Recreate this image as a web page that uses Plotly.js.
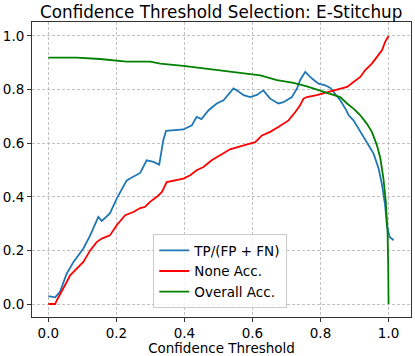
<!DOCTYPE html>
<html>
<head>
<meta charset="utf-8">
<script src="https://cdn.plot.ly/plotly-3.0.1.min.js"></script>
<style>
  html, body { margin: 0; padding: 0; background: #fff; }
  #chart { width: 415px; height: 356px; }
</style>
</head>
<body>
<div id="chart"></div>
<script>
// values
var tp_x = [0, 0.02, 0.034, 0.054, 0.074, 0.103, 0.123, 0.147, 0.157, 0.181, 0.201, 0.23, 0.24, 0.27, 0.289, 0.309, 0.326, 0.338, 0.346,
  0.397, 0.422, 0.436, 0.45, 0.471, 0.495, 0.515, 0.544, 0.554, 0.574, 0.593, 0.613, 0.632, 0.652, 0.676, 0.691, 0.716, 0.731, 0.74,
  0.755, 0.775, 0.794, 0.814, 0.829, 0.843, 0.858, 0.873, 0.883, 0.897, 0.917, 0.936, 0.956, 0.971, 0.981, 0.99, 0.995, 1.003, 1.015];
var tp_y = [0.029, 0.025, 0.045, 0.113, 0.157, 0.207, 0.256, 0.325, 0.31, 0.338, 0.393, 0.46, 0.468, 0.489, 0.536, 0.53, 0.52, 0.611, 0.646,
  0.651, 0.667, 0.698, 0.69, 0.723, 0.748, 0.76, 0.804, 0.797, 0.779, 0.772, 0.78, 0.797, 0.766, 0.748, 0.753, 0.772, 0.804, 0.835,
  0.866, 0.841, 0.822, 0.816, 0.806, 0.785, 0.76, 0.729, 0.704, 0.685, 0.642, 0.604, 0.561, 0.505, 0.443, 0.368, 0.294, 0.25, 0.238];

var none_x = [0, 0.02, 0.025, 0.039, 0.054, 0.064, 0.084, 0.103, 0.123, 0.142, 0.157, 0.181, 0.201, 0.226, 0.25, 0.27, 0.284, 0.299,
  0.319, 0.334, 0.348, 0.368, 0.397, 0.417, 0.436, 0.456, 0.48, 0.505, 0.534, 0.564, 0.574, 0.608, 0.628, 0.652, 0.676, 0.691, 0.706,
  0.726, 0.74, 0.75, 0.76, 0.789, 0.814, 0.848, 0.878, 0.897, 0.917, 0.931, 0.951, 0.966, 0.981, 0.99, 1.0];
var none_y = [0, 0, 0.014, 0.045, 0.082, 0.107, 0.132, 0.157, 0.2, 0.231, 0.244, 0.256, 0.294, 0.331, 0.343, 0.358, 0.362, 0.381,
  0.4, 0.418, 0.455, 0.46, 0.468, 0.48, 0.499, 0.511, 0.536, 0.555, 0.577, 0.588, 0.592, 0.604, 0.629, 0.642, 0.66, 0.673, 0.685,
  0.716, 0.741, 0.766, 0.772, 0.779, 0.787, 0.8, 0.81, 0.828, 0.847, 0.872, 0.897, 0.922, 0.947, 0.978, 1.0];

var overall_x = [0, 0.083, 0.152, 0.201, 0.23, 0.299, 0.329, 0.397, 0.446, 0.495, 0.564, 0.623, 0.672, 0.721, 0.76, 0.799, 0.829,
  0.858, 0.878, 0.897, 0.917, 0.936, 0.951, 0.966, 0.976, 0.985, 0.992, 0.997, 0.999, 1.0];
var overall_y = [0.919, 0.919, 0.914, 0.909, 0.904, 0.904, 0.897, 0.888, 0.881, 0.872, 0.863, 0.853, 0.835, 0.825, 0.812, 0.797, 0.786,
  0.772, 0.748, 0.729, 0.704, 0.673, 0.642, 0.592, 0.543, 0.468, 0.381, 0.269, 0.144, 0.0];

var tick_vals = [0, 0.2, 0.4, 0.6, 0.8, 1.0];

var font = 'DejaVu Sans, sans-serif';

var traces = [
  {
    x: tp_x, y: tp_y, mode: 'lines', type: 'scatter', name: 'TP/(FP + FN)',
    line: { color: '#1f77b4', width: 1.8 }
  },
  {
    x: none_x, y: none_y, mode: 'lines', type: 'scatter', name: 'None Acc.',
    line: { color: '#ff0000', width: 1.8 }
  },
  {
    x: overall_x, y: overall_y, mode: 'lines', type: 'scatter', name: 'Overall Acc.',
    line: { color: '#008000', width: 1.8 }
  }
];

var axis_common = {
  tickvals: tick_vals,
  tickformat: '.1f',
  ticks: 'outside',
  ticklen: 4,
  tickcolor: '#333',
  showline: true,
  mirror: true,
  linecolor: '#333',
  linewidth: 1,
  showgrid: true,
  gridcolor: '#b0b0b0',
  gridwidth: 0.8,
  griddash: '3px,2px',
  zeroline: false,
  tickfont: { family: font, size: 13.5, color: '#000' }
};

var layout = {
  width: 415,
  height: 356,
  paper_bgcolor: '#fff',
  plot_bgcolor: '#fff',
  font: { family: font, color: '#000' },
  title: {
    text: 'Confidence Threshold Selection: E-Stitchup',
    font: { family: font, size: 16.8, color: '#000' },
    x: 0.533,
    xanchor: 'center',
    y: 0.967,
    yanchor: 'middle'
  },
  xaxis: Object.assign({}, axis_common, {
    range: [-0.048, 1.066],
    title: { text: 'Confidence Threshold', font: { family: font, size: 13.5, color: '#000' }, standoff: 0 }
  }),
  yaxis: Object.assign({}, axis_common, {
    range: [-0.0485, 1.052]
  }),
  showlegend: true,
  legend: {
    x: 0.32,
    y: 0.03,
    xanchor: 'left',
    yanchor: 'bottom',
    bgcolor: 'rgba(255,255,255,0.8)',
    bordercolor: '#cccccc',
    borderwidth: 1,
    font: { family: font, size: 13.5, color: '#000' },
    tracegroupgap: 0
  },
  margin: { l: 32, r: 4, t: 22, b: 39 }
};

Plotly.newPlot('chart', traces, layout, { displayModeBar: false, staticPlot: true });
</script>
</body>
</html>
